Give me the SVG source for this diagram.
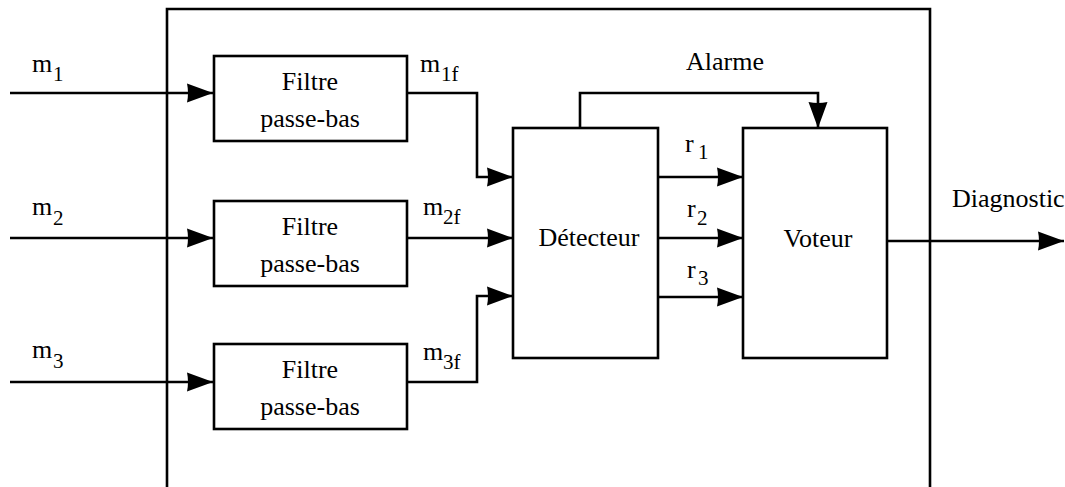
<svg xmlns="http://www.w3.org/2000/svg" width="1065" height="487" viewBox="0 0 1065 487">
<style>
.box{fill:#fff;stroke:#000;stroke-width:2.6}
.ln{fill:none;stroke:#000;stroke-width:2.6}
.ar{fill:none;stroke:#000;stroke-width:2.6;marker-end:url(#ah)}
text{font-family:"Liberation Serif","Tinos","DejaVu Serif","Times New Roman",serif;font-size:26px;fill:#000}
.c{text-anchor:middle}
.s{font-size:21px}
</style>
<defs>
<marker id="ah" viewBox="0 0 26 20" refX="26" refY="10" markerWidth="26" markerHeight="20" markerUnits="userSpaceOnUse" orient="auto">
<path d="M0,0.5 L26,10 L0,19.5 Q2,10 0,0.5 z" fill="#000"/>
</marker>
</defs>
<g id="system">
<path class="ln" d="M167,487 V9 H930 V487"/>
</g>
<g id="connectors">
<path class="ar" d="M10,93 H213"/>
<path class="ar" d="M10,238 H213"/>
<path class="ar" d="M10,382 H213"/>
<path class="ar" d="M407,93 H477 V177 H513"/>
<path class="ar" d="M407,238 H513"/>
<path class="ar" d="M407,382 H477 V296 H513"/>
<path class="ar" d="M658,177 H743"/>
<path class="ar" d="M658,238 H743"/>
<path class="ar" d="M658,297 H743"/>
<path class="ar" d="M580,128 V93 H818 V128"/>
<path class="ar" d="M887,241 H1064"/>
</g>
<g id="filtre1">
<rect class="box" x="214" y="56" width="193" height="85"/>
<text class="c" x="310" y="90" font-family="Liberation Serif, serif">Filtre</text>
<text class="c" x="310" y="127" font-family="Liberation Serif, serif">passe-bas</text>
</g>
<g id="filtre2">
<rect class="box" x="214" y="201" width="193" height="85"/>
<text class="c" x="310" y="235" font-family="Liberation Serif, serif">Filtre</text>
<text class="c" x="310" y="272" font-family="Liberation Serif, serif">passe-bas</text>
</g>
<g id="filtre3">
<rect class="box" x="214" y="344" width="193" height="85"/>
<text class="c" x="310" y="378" font-family="Liberation Serif, serif">Filtre</text>
<text class="c" x="310" y="415" font-family="Liberation Serif, serif">passe-bas</text>
</g>
<g id="detecteur">
<rect class="box" x="513" y="128" width="145" height="230"/>
<text class="c" x="589" y="246" font-family="Liberation Serif, serif">Détecteur</text>
</g>
<g id="voteur">
<rect class="box" x="743" y="128" width="144" height="230"/>
<text class="c" x="818" y="247" font-family="Liberation Serif, serif">Voteur</text>
</g>
<g id="labels" font-family="Liberation Serif, serif">
<text x="32" y="72">m<tspan class="s" x="53" y="81">1</tspan></text>
<text x="32" y="215">m<tspan class="s" x="53" y="225">2</tspan></text>
<text x="32" y="358">m<tspan class="s" x="53" y="368">3</tspan></text>
<text x="420" y="72">m<tspan class="s" x="441" y="81">1f</tspan></text>
<text x="423" y="215">m<tspan class="s" x="443" y="224">2f</tspan></text>
<text x="423" y="360">m<tspan class="s" x="443" y="369">3f</tspan></text>
<text x="686" y="70">Alarme</text>
<text x="685" y="152">r<tspan class="s" x="698" y="159">1</tspan></text>
<text x="687" y="217">r<tspan class="s" x="697" y="225">2</tspan></text>
<text x="687" y="278">r<tspan class="s" x="698" y="285">3</tspan></text>
<text x="952" y="207">Diagnostic</text>
</g>
</svg>
